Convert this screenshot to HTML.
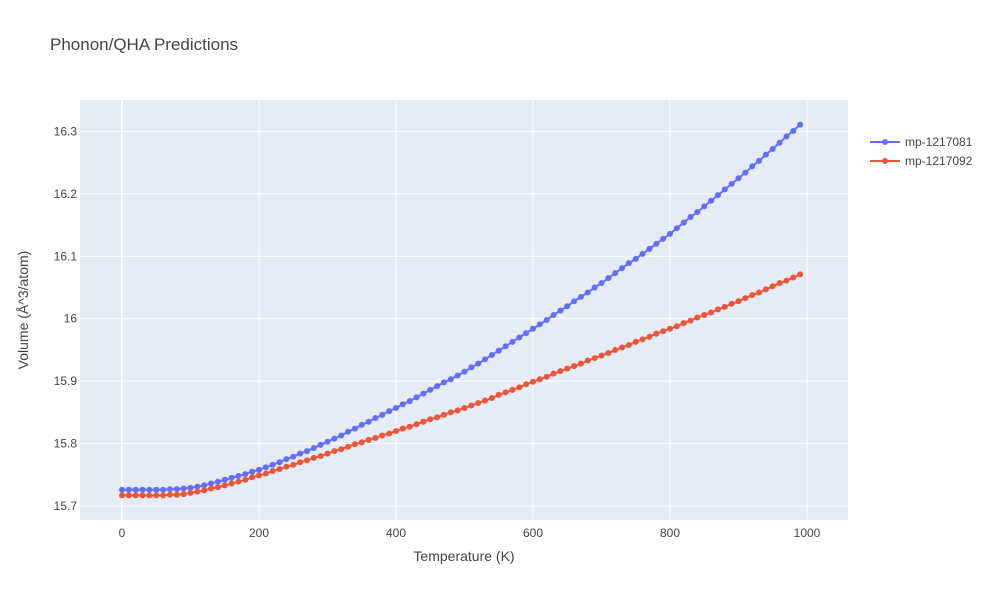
<!DOCTYPE html>
<html><head><meta charset="utf-8"><style>
body{margin:0;background:#fff;font-family:"Liberation Sans",Arial,sans-serif;}
svg text{font-family:"Liberation Sans",Arial,sans-serif;}
</style></head><body>
<svg id="chart" width="1000" height="600" xmlns="http://www.w3.org/2000/svg">
<rect width="1000" height="600" fill="#fff"/>
<text x="50" y="50" font-size="17" fill="#444">Phonon/QHA Predictions</text>
<rect x="80" y="100" width="768" height="420" fill="#e5ecf6"/>
<g id="grid"></g><g id="series"></g>
<text x="464" y="561" font-size="14" fill="#444" text-anchor="middle">Temperature (K)</text>
<text transform="translate(28,310) rotate(-90)" font-size="14" fill="#444" text-anchor="middle">Volume (Å^3/atom)</text>
<g id="legend"></g>
</svg>
<script>
const temps = [];
for (let t = 0; t <= 990; t += 10) temps.push(t);
const seriesNames = ["mp-1217081","mp-1217092"];
const seriesColors = ["#636efa","#ef553b"];
const blueValues = [
15.726,15.726,15.726,15.726,15.726,15.726,15.726,15.727,15.727,15.728,
15.729,15.731,15.733,15.736,15.739,15.742,15.745,15.748,15.751,15.755,
15.758,15.762,15.766,15.770,15.775,15.779,15.784,15.788,15.793,15.798,
15.803,15.808,15.813,15.819,15.824,15.830,15.835,15.841,15.846,15.852,
15.857,15.863,15.868,15.874,15.880,15.886,15.892,15.898,15.903,15.909,
15.915,15.922,15.928,15.935,15.942,15.949,15.956,15.963,15.970,15.977,
15.984,15.991,15.998,16.006,16.013,16.020,16.028,16.035,16.042,16.050,
16.057,16.065,16.073,16.081,16.089,16.096,16.104,16.112,16.120,16.128,
16.136,16.145,16.154,16.163,16.171,16.180,16.189,16.198,16.207,16.216,
16.225,16.234,16.244,16.253,16.263,16.272,16.282,16.292,16.301,16.311];
const redValues = [
15.717,15.717,15.717,15.717,15.717,15.717,15.717,15.718,15.718,15.719,
15.721,15.723,15.725,15.728,15.730,15.733,15.736,15.739,15.742,15.746,
15.749,15.752,15.756,15.759,15.763,15.766,15.770,15.773,15.777,15.780,
15.784,15.788,15.791,15.795,15.799,15.802,15.806,15.809,15.813,15.816,
15.820,15.824,15.827,15.831,15.835,15.839,15.842,15.846,15.850,15.853,
15.857,15.861,15.865,15.869,15.873,15.878,15.882,15.886,15.890,15.895,
15.899,15.903,15.907,15.912,15.916,15.920,15.924,15.928,15.933,15.937,
15.941,15.945,15.950,15.954,15.958,15.963,15.967,15.971,15.976,15.980,
15.984,15.988,15.993,15.997,16.002,16.006,16.010,16.015,16.019,16.024,
16.028,16.033,16.038,16.042,16.047,16.052,16.057,16.061,16.066,16.071];
const xTicks = [0,200,400,600,800,1000];
const xTickLabels = ["0","200","400","600","800","1000"];
const yTicks = [15.7,15.8,15.9,16.0,16.1,16.2,16.3];
const yTickLabels = ["15.7","15.8","15.9","16","16.1","16.2","16.3"];

const NS="http://www.w3.org/2000/svg";
function xs(t){return 122 + t*0.685;}
function ys(v){return 506 - (v-15.7)*624.2;}
function mk(tag,attrs,parent){const e=document.createElementNS(NS,tag);for(const k in attrs)e.setAttribute(k,attrs[k]);parent.appendChild(e);return e;}
const grid=document.getElementById('grid');
xTicks.forEach((t,i)=>{
  const l=mk('line',{x1:xs(t),x2:xs(t),y1:100,y2:520,stroke:'#fff','stroke-width':t===0?2:1},grid);
  
  
  const tx=mk('text',{x:xs(t),y:537,'font-size':12,fill:'#444','text-anchor':'middle'},grid);
  tx.textContent=xTickLabels[i];
  
  
});
yTicks.forEach((v,i)=>{
  const l=mk('line',{x1:80,x2:848,y1:ys(v),y2:ys(v),stroke:'#fff','stroke-width':1},grid);
  
  
  const tx=mk('text',{x:77,y:ys(v)+4,'font-size':12,fill:'#444','text-anchor':'end'},grid);
  tx.textContent=yTickLabels[i];
  
  
});
const sg=document.getElementById('series');
[blueValues,redValues].forEach((vals,si)=>{
  const g=mk('g',{},sg);
  
  
  const pts=vals.map((v,i)=>xs(temps[i])+','+ys(v)).join(' ');
  const pl=mk('polyline',{points:pts,fill:'none',stroke:seriesColors[si],'stroke-width':2},g);
  
  
  vals.forEach((v,i)=>{
    const c=mk('circle',{cx:xs(temps[i]),cy:ys(v),r:3,fill:seriesColors[si]},g);
    
    
  });
});
const lg=document.getElementById('legend');
seriesNames.forEach((n,i)=>{
  const y=142+i*19;
  const g=mk('g',{},lg);
  
  
  mk('line',{x1:870,x2:900,y1:y,y2:y,stroke:seriesColors[i],'stroke-width':2},g);
  mk('circle',{cx:885,cy:y,r:3,fill:seriesColors[i]},g);
  const t=mk('text',{x:905,y:y+4,'font-size':12,fill:'#444'},g);
  t.textContent=n;
});
</script>
</body></html>
